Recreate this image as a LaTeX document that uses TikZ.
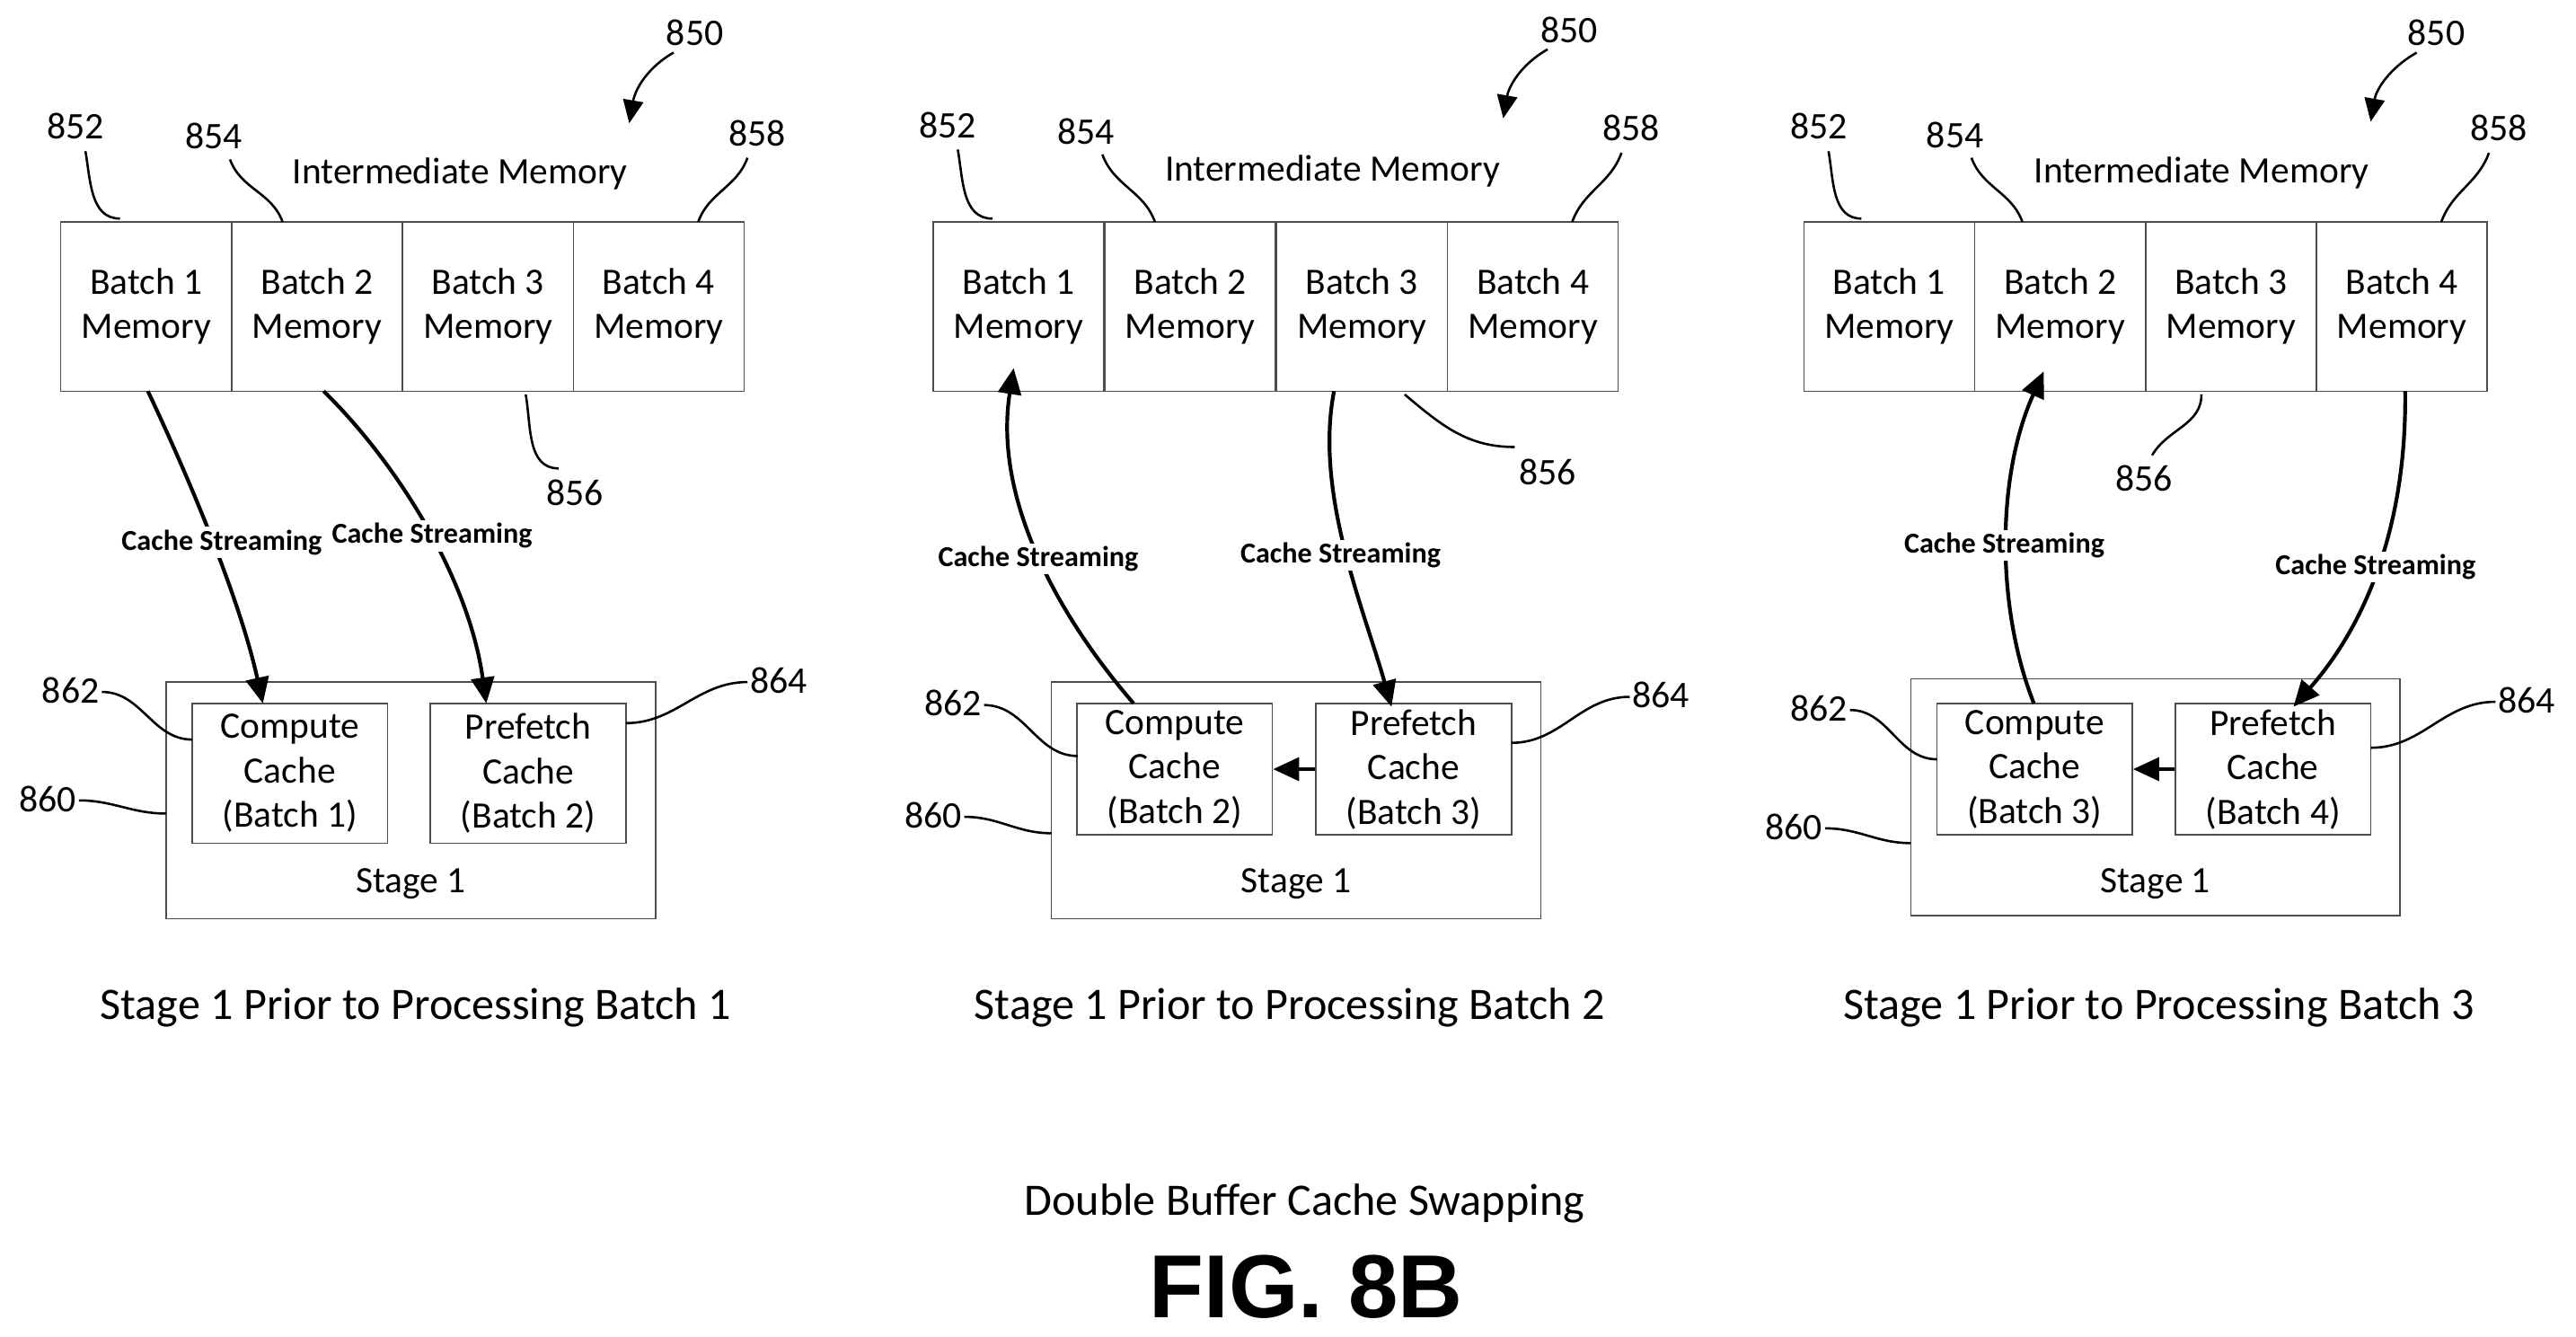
\documentclass[tikz,border=0pt]{standalone}
\usepackage{fontspec}
\setmainfont{Carlito}
\newfontfamily\arialf{Liberation Sans}
\usetikzlibrary{arrows.meta}
\begin{document}
\begin{tikzpicture}[x=0.02cm,y=-0.02cm,
 cell/.style={draw=black!70,line width=0.5pt,minimum width=2.08cm,minimum height=2.06cm,inner sep=0pt,align=center,font=\fontsize{12.9}{15.4}\selectfont},
 cache/.style={draw=black!70,line width=0.5pt,minimum width=2.38cm,minimum height=1.7cm,inner sep=0pt,align=center,font=\fontsize{12.9}{15.4}\selectfont},
 stage/.style={draw=black!70,line width=0.5pt,inner sep=0pt},
 ref/.style={font=\fontsize{13}{14}\selectfont},
 lead/.style={line width=0.8pt},
 strm/.style={line width=1.3pt,-{Triangle[length=9pt,width=8pt]}},
 slab/.style={font=\bfseries\fontsize{10}{12}\selectfont,fill=white,inner sep=1pt},
 captxt/.style={font=\fontsize{15.6}{18}\selectfont}]
\useasboundingbox (0,0) rectangle (1568,813.5);
% ---------- Panel 1
\foreach \i/\x in {1/89,2/193,3/297,4/401}{\node[cell] (a\i) at (\x,186.5) {Batch \i\\Memory};}
\node (aim) at (280,106) [font=\fontsize{12.9}{14}\selectfont] {Intermediate Memory};
\node[stage,minimum width=5.96cm,minimum height=2.88cm] (as) at (250,487) {};
\node[cache,minimum height=1.7cm] (ac) at (176.5,470.5) {Compute\\Cache\\(Batch 1)};
\node[cache] (ap) at (321.5,470.5) {Prefetch\\Cache\\(Batch 2)};
\node (ast) at (250,538) [font=\fontsize{12.9}{14}\selectfont] {Stage 1};
\node[captxt] (acap) at (253,613) {Stage 1 Prior to Processing Batch 1};
\coordinate (a1b) at (90,238); \coordinate (a2b) at (197,238);
\coordinate (act) at (160,428); \coordinate (apt) at (296,428);
\draw[strm] (a1b) .. controls (110,280) and (145,360) .. (act);
\draw[strm] (a2b) .. controls (240,280) and (285,350) .. (apt);
\node[slab] at (135,330) {Cache Streaming};
\node[slab] at (263,326) {Cache Streaming};
\node[ref] (r852a) at (46,77) {852}; \draw[lead] (52,92) to[out=-80,in=180] (73,133);
\node[ref] (r854a) at (130,83) {854}; \draw[lead] (140,97) to[out=-70,in=110] (172,135);
\node[ref] (r858a) at (461,81) {858}; \draw[lead] (455,96) to[out=-110,in=70] (425,135);
\node[ref] (r856a) at (350,300) {856}; \draw[lead] (320,240) to[out=-80,in=180] (340,285);
\node[ref] (r850a) at (423,20) {850}; \draw[lead,-{Triangle[length=8pt,width=7pt]}] (410,32) to[out=-150,in=80] (383,75);
\node[ref] (r862a) at (43,420) {862}; \draw[lead] (62,421) to[out=0,in=180] (117,450);
\node[ref] (r864a) at (474,414) {864}; \draw[lead] (455,415) to[out=180,in=0] (381,440);
\node[ref] (r860a) at (29,486) {860}; \draw[lead] (48,487) to[out=0,in=180] (101,495);
% ---------- Panel 2
\foreach \i/\x in {1/620,2/724.5,3/829,4/933}{\node[cell] (b\i) at (\x,186.5) {Batch \i\\Memory};}
\node (bim) at (811,104) [font=\fontsize{12.9}{14}\selectfont] {Intermediate Memory};
\node[stage,minimum width=5.96cm,minimum height=2.88cm] (bs) at (789,487) {};
\node[cache,minimum height=1.6cm] (bc) at (715,468) {Compute\\Cache\\(Batch 2)};
\node[cache,minimum height=1.6cm] (bp) at (860.5,468) {Prefetch\\Cache\\(Batch 3)};
\node (bst) at (789,538) [font=\fontsize{12.9}{14}\selectfont] {Stage 1};
\node[captxt] (bcap) at (785,613) {Stage 1 Prior to Processing Batch 2};
\coordinate (bct) at (690,428); \coordinate (b1b) at (617,224);
\coordinate (b3b) at (812,238); \coordinate (bpt) at (847,430);
\draw[strm] (bct) .. controls (640,370) and (605,300) .. (b1b);
\draw[strm] (b3b) .. controls (800,300) and (830,370) .. (bpt);
\node[slab] at (632,340) {Cache Streaming};
\node[slab] at (816,338) {Cache Streaming};
\draw[strm] (bp.west) -- (bc.east);
\node[ref] (r852b) at (577,76) {852}; \draw[lead] (583,91) to[out=-80,in=180] (604,133);
\node[ref] (r854b) at (661,80) {854}; \draw[lead] (671,94) to[out=-70,in=110] (703,135);
\node[ref] (r858b) at (993,78) {858}; \draw[lead] (987,93) to[out=-110,in=70] (957,135);
\node[ref] (r856b) at (942,287) {856}; \draw[lead] (855,240) to[out=-40,in=180] (922,272);
\node[ref] (r850b) at (955,18) {850}; \draw[lead,-{Triangle[length=8pt,width=7pt]}] (942,30) to[out=-150,in=80] (915,72);
\node[ref] (r862b) at (580,428) {862}; \draw[lead] (599,429) to[out=0,in=180] (656,460);
\node[ref] (r864b) at (1011,423) {864}; \draw[lead] (992,424) to[out=180,in=0] (920,452);
\node[ref] (r860b) at (568,496) {860}; \draw[lead] (587,497) to[out=0,in=180] (640,507);
% ---------- Panel 3
\foreach \i/\x in {1/1150,2/1254,3/1358,4/1462}{\node[cell] (c\i) at (\x,186.5) {Batch \i\\Memory};}
\node (cim) at (1340,105) [font=\fontsize{12.9}{14}\selectfont] {Intermediate Memory};
\node[stage,minimum width=5.96cm,minimum height=2.88cm] (cs) at (1312,485) {};
\node[cache,minimum height=1.6cm] (cc) at (1238.5,468) {Compute\\Cache\\(Batch 3)};
\node[cache,minimum height=1.6cm] (cp) at (1383.5,468) {Prefetch\\Cache\\(Batch 4)};
\node (cst) at (1312,538) [font=\fontsize{12.9}{14}\selectfont] {Stage 1};
\node[captxt] (ccap) at (1314,613) {Stage 1 Prior to Processing Batch 3};
\coordinate (cct) at (1238,428); \coordinate (c2b) at (1244,226);
\coordinate (c4b) at (1464,238); \coordinate (cpt) at (1396,430);
\draw[strm] (cct) .. controls (1215,370) and (1215,290) .. (c2b);
\draw[strm] (c4b) .. controls (1465,320) and (1440,380) .. (cpt);
\node[slab] at (1220,332) {Cache Streaming};
\node[slab] at (1446,345) {Cache Streaming};
\draw[strm] (cp.west) -- (cc.east);
\node[ref] (r852c) at (1107,77) {852}; \draw[lead] (1113,92) to[out=-80,in=180] (1133,133);
\node[ref] (r854c) at (1190,82) {854}; \draw[lead] (1200,96) to[out=-70,in=110] (1231,135);
\node[ref] (r858c) at (1521,78) {858}; \draw[lead] (1515,93) to[out=-110,in=70] (1486,135);
\node[ref] (r856c) at (1305,291) {856}; \draw[lead] (1340,240) to[out=-90,in=60] (1310,277);
\node[ref] (r850c) at (1483,20) {850}; \draw[lead,-{Triangle[length=8pt,width=7pt]}] (1471,32) to[out=-150,in=80] (1443,74);
\node[ref] (r862c) at (1107,431) {862}; \draw[lead] (1126,432) to[out=0,in=180] (1179,462);
\node[ref] (r864c) at (1538,426) {864}; \draw[lead] (1519,427) to[out=180,in=0] (1443,455);
\node[ref] (r860c) at (1092,503) {860}; \draw[lead] (1111,504) to[out=0,in=180] (1163,513);
% ---------- Bottom
\node[captxt] (title) at (794,732) {Double Buffer Cache Swapping};
\node (fig) at (795,783) [font=\arialf\bfseries\fontsize{31}{34}\selectfont] {FIG. 8B};
\end{tikzpicture}
\end{document}
